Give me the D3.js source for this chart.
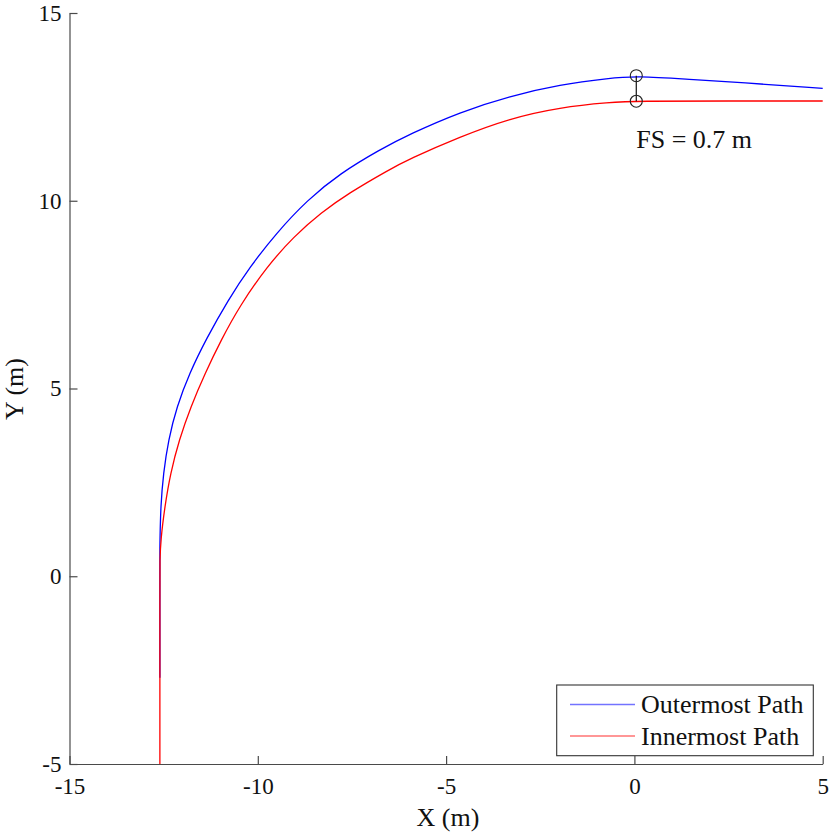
<!DOCTYPE html>
<html><head><meta charset="utf-8">
<script src="https://cdn.jsdelivr.net/npm/d3@7"></script>
<style>body{margin:0;background:#fff}svg{display:block}text{font-family:"Liberation Serif","Times New Roman",serif;fill:#111}</style>
</head><body>
<script>
const xTicks = [-15,-10,-5,0,5];
const yTicks = [-5,0,5,10,15];
const seriesNames = ["Outermost Path","Innermost Path"];
const seriesColors = ["#0000ff","#ff0000"];
const outerX = [-12.6,-12.6,-12.6,-12.597,-12.579,-12.508,-12.375,-12.153,-11.815,-11.38,-10.79,-10.205,-9.512,-8.687,-7.817,-6.755,-5.959,-4.631,-3.303,-1.976,-0.648,0.061,1.47,2.80,5.0];
const outerY = [-2.7,0.3,0.8,0.965,1.853,2.742,3.628,4.515,5.405,6.3,7.357,8.244,9.133,10.020,10.727,11.364,11.778,12.362,12.787,13.092,13.265,13.322,13.23,13.15,12.99];
const innerX = [-12.6,-12.6,-12.6,-12.578,-12.47,-12.32,-12.09,-11.78,-11.40,-10.97,-10.48,-9.76,-9.038,-8.316,-7.593,-6.531,-5.98,-4.631,-3.303,-1.976,-0.648,0.061,2.5,5.0];
const innerY = [-5,0.0,0.4,0.965,1.853,2.742,3.628,4.515,5.405,6.3,7.2,8.244,9.053,9.686,10.198,10.819,11.11,11.706,12.196,12.489,12.622,12.656,12.656,12.656];
const markerX = [0.05,0.05];
const markerY = [13.33,12.65];
const annotation = "FS = 0.7 m";

const W=829,H=832;
const svg=d3.select("body").append("svg").attr("width",W).attr("height",H);
const x=d3.scaleLinear().domain([-15,5]).range([69.5,822.7]);
const y=d3.scaleLinear().domain([-5,15]).range([764,13]);
const axisColor="#4a4a4a";
const fsTick=23, fsText=26;

const outer=outerX.map((v,i)=>[v,outerY[i]]);
const inner=innerX.map((v,i)=>[v,innerY[i]]);
const path=d3.line().x(d=>x(d[0])).y(d=>y(d[1])).curve(d3.curveBasis);
svg.append("path").attr("d",path(outer)).attr("fill","none").attr("stroke",seriesColors[0]).attr("stroke-width",1.3);
svg.append("path").attr("d",path(inner)).attr("fill","none").attr("stroke",seriesColors[1]).attr("stroke-width",1.3);

// axes
const gx=svg.append("g").attr("transform",`translate(0,${y(-5)})`)
  .call(d3.axisBottom(x).tickValues(xTicks).tickSizeInner(-8).tickSizeOuter(0).tickPadding(14));
const gy=svg.append("g").attr("transform",`translate(${x(-15)},0)`)
  .call(d3.axisLeft(y).tickValues(yTicks).tickSizeInner(-8).tickSizeOuter(0).tickPadding(8));
[gx,gy].forEach(g=>{
  g.selectAll("path,line").attr("stroke",axisColor).attr("stroke-width",1.2);
  g.selectAll("text").style("font-family",'"Liberation Serif",serif').style("font-size",fsTick+"px").attr("fill","#111")
    .text(d=>d<0?"-"+Math.abs(d):String(d));
});

svg.append("text").attr("x",448).attr("y",826).attr("text-anchor","middle").style("font-size",fsText+"px").text("X (m)");
svg.append("text").attr("transform","translate(23,389) rotate(-90)").attr("text-anchor","middle").style("font-size",fsText+"px").text("Y (m)");

// marker
svg.append("line").attr("x1",x(markerX[0])).attr("x2",x(markerX[1])).attr("y1",y(markerY[0])).attr("y2",y(markerY[1])).attr("stroke","#111").attr("stroke-width",1.2);
svg.selectAll("circle.m").data(markerX.map((v,i)=>[v,markerY[i]])).enter().append("circle")
  .attr("cx",d=>x(d[0])).attr("cy",d=>y(d[1])).attr("r",6).attr("fill","none").attr("stroke","#222").attr("stroke-width",1.1);
svg.append("text").attr("x",x(markerX[0])).attr("y",y(11.4)).attr("text-anchor","start").style("font-size",fsText+"px").text(annotation);

// legend
const lg=svg.append("g");
lg.append("rect").attr("x",556.7).attr("y",685).attr("width",256.6).attr("height",70.7).attr("fill","#fff").attr("stroke","#333").attr("stroke-width",1.1);
seriesNames.forEach((n,i)=>{
  const yy=704.5+i*31.5;
  lg.append("line").attr("x1",570).attr("x2",635).attr("y1",yy).attr("y2",yy).attr("stroke",seriesColors[i]).attr("stroke-opacity",0.55).attr("stroke-width",1.3);
  lg.append("text").attr("x",641).attr("y",yy).attr("dy","0.33em").style("font-size",fsText+"px").text(n);
});
</script>
</body></html>
